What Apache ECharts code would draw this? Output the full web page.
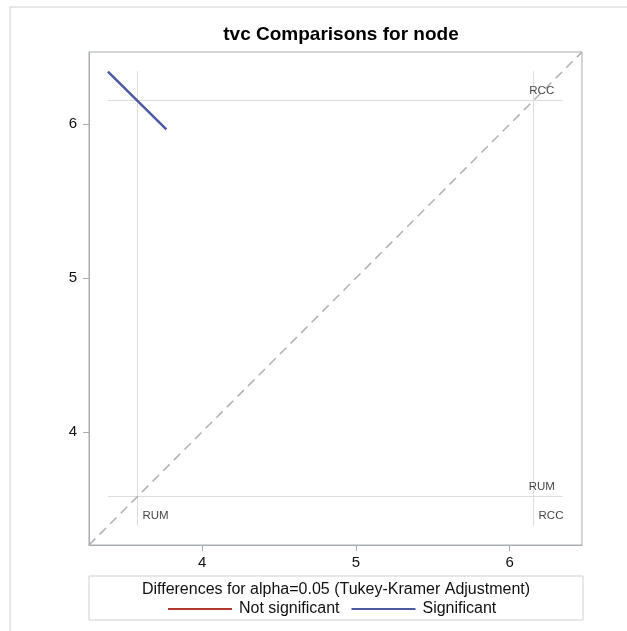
<!DOCTYPE html>
<html>
<head>
<meta charset="utf-8">
<script src="https://cdn.jsdelivr.net/npm/echarts@6/dist/echarts.min.js"></script>
<style>
  html, body { margin: 0; padding: 0; background: #fff; }
  #chart { width: 627px; height: 631px; }
</style>
</head>
<body>
<div id="chart"></div>
<script>
// LS-means of tvc per node level
var levels = ['RUM', 'RCC']
var lsmeans = [3.58, 6.155]
// axis range (same for both axes)
var axisMin = 3.265
var axisMax = 6.47
var tickValues = [4, 5, 6]
// extent of the reference lines
var refStart = 3.39
var refEnd = 6.345
// comparison segment RUM vs RCC (significant)
var segX = [3.388, 3.768]
var segY = [6.343, 5.967]

var chart = echarts.init(document.getElementById('chart'))
var font = 'Liberation Sans, Arial, sans-serif'
var refColor = '#dcdcdc'

var series = []
// diagonal
series.push({
  type: 'line',
  data: [[axisMin, axisMin], [axisMax, axisMax]],
  symbol: 'none',
  silent: true,
  lineStyle: { color: '#b0b0b0', width: 1.5, type: [9, 6] },
  z: 1
})
// reference lines
lsmeans.forEach(function (m) {
  series.push({
    type: 'line', symbol: 'none', silent: true,
    data: [[m, refStart], [m, refEnd]],
    lineStyle: { color: refColor, width: 1 }, z: 0
  })
  series.push({
    type: 'line', symbol: 'none', silent: true,
    data: [[refStart, m], [refEnd, m]],
    lineStyle: { color: refColor, width: 1 }, z: 0
  })
})
// segment
series.push({
  name: 'Significant',
  type: 'line', symbol: 'none',
  data: [[segX[0], segY[0]], [segX[1], segY[1]]],
  lineStyle: { color: '#4a5aa0', width: 2.5 },
  itemStyle: { color: '#4a5aa0' },
  z: 5
})
series.push({
  name: 'Not significant',
  type: 'line', symbol: 'none', data: [],
  lineStyle: { color: '#b03a2e', width: 2 },
  itemStyle: { color: '#b03a2e' }
})
// level labels
var lblStyle = { show: true, color: '#111', fontSize: 11.5, fontFamily: font }
var labelData = []
levels.forEach(function (name, i) {
  var m = lsmeans[i]
  // label near right end of horizontal line
  labelData.push({ value: [refEnd, m], label: Object.assign({}, lblStyle, { formatter: name, position: 'top', offset: [-21, 1] }) })
  // label near bottom of vertical line
  labelData.push({ value: [m, refStart], label: Object.assign({}, lblStyle, { formatter: name, position: 'right', offset: [0, -10] }) })
})
series.push({
  type: 'scatter', symbolSize: 0, silent: true, data: labelData, z: 6
})

var option = {
  animation: false,
  backgroundColor: '#fff',
  title: {
    text: 'tvc Comparisons for node',
    left: 336, top: 20, textAlign: 'center',
    textStyle: { fontFamily: font, fontSize: 19, fontWeight: 'bold', color: '#000' }
  },
  grid: {
    left: 89, top: 52, width: 493, height: 493,
    show: true, borderColor: '#a8adb3', borderWidth: 1
  },
  xAxis: {
    type: 'value', min: axisMin, max: axisMax,
    splitLine: { show: false },
    axisLine: { show: true, lineStyle: { color: '#a8adb3' } },
    axisTick: { show: true, length: 6, customValues: tickValues, lineStyle: { color: '#a8adb3' } },
    axisLabel: { customValues: tickValues, color: '#111', fontSize: 15, fontFamily: font, margin: 10 }
  },
  yAxis: {
    type: 'value', min: axisMin, max: axisMax,
    splitLine: { show: false },
    axisLine: { show: true, lineStyle: { color: '#a8adb3' } },
    axisTick: { show: true, length: 6, customValues: tickValues, lineStyle: { color: '#a8adb3' } },
    axisLabel: { customValues: tickValues, color: '#111', fontSize: 15, fontFamily: font, margin: 12 }
  },
  legend: {
    data: ['Not significant', 'Significant'],
    top: 596, left: 163,
    icon: 'rect', itemWidth: 64, itemHeight: 2, itemGap: 12,
    textStyle: { fontFamily: font, fontSize: 16, color: '#111', padding: [0, 0, 0, 2] }
  },
  graphic: [
    { type: 'rect', shape: { x: 10, y: 7, width: 640, height: 640 }, style: { fill: 'none', stroke: '#d0d0d0', lineWidth: 1 }, silent: true },
    { type: 'rect', shape: { x: 89, y: 576, width: 494, height: 44 }, style: { fill: 'none', stroke: '#d0d0d0', lineWidth: 1 }, silent: true },
    { type: 'text', x: 336, y: 590, style: { text: 'Differences for alpha=0.05 (Tukey-Kramer Adjustment)', fill: '#111', font: '16px ' + font, textAlign: 'center', textVerticalAlign: 'middle' }, silent: true }
  ],
  series: series
}
chart.setOption(option)
</script>
</body>
</html>
